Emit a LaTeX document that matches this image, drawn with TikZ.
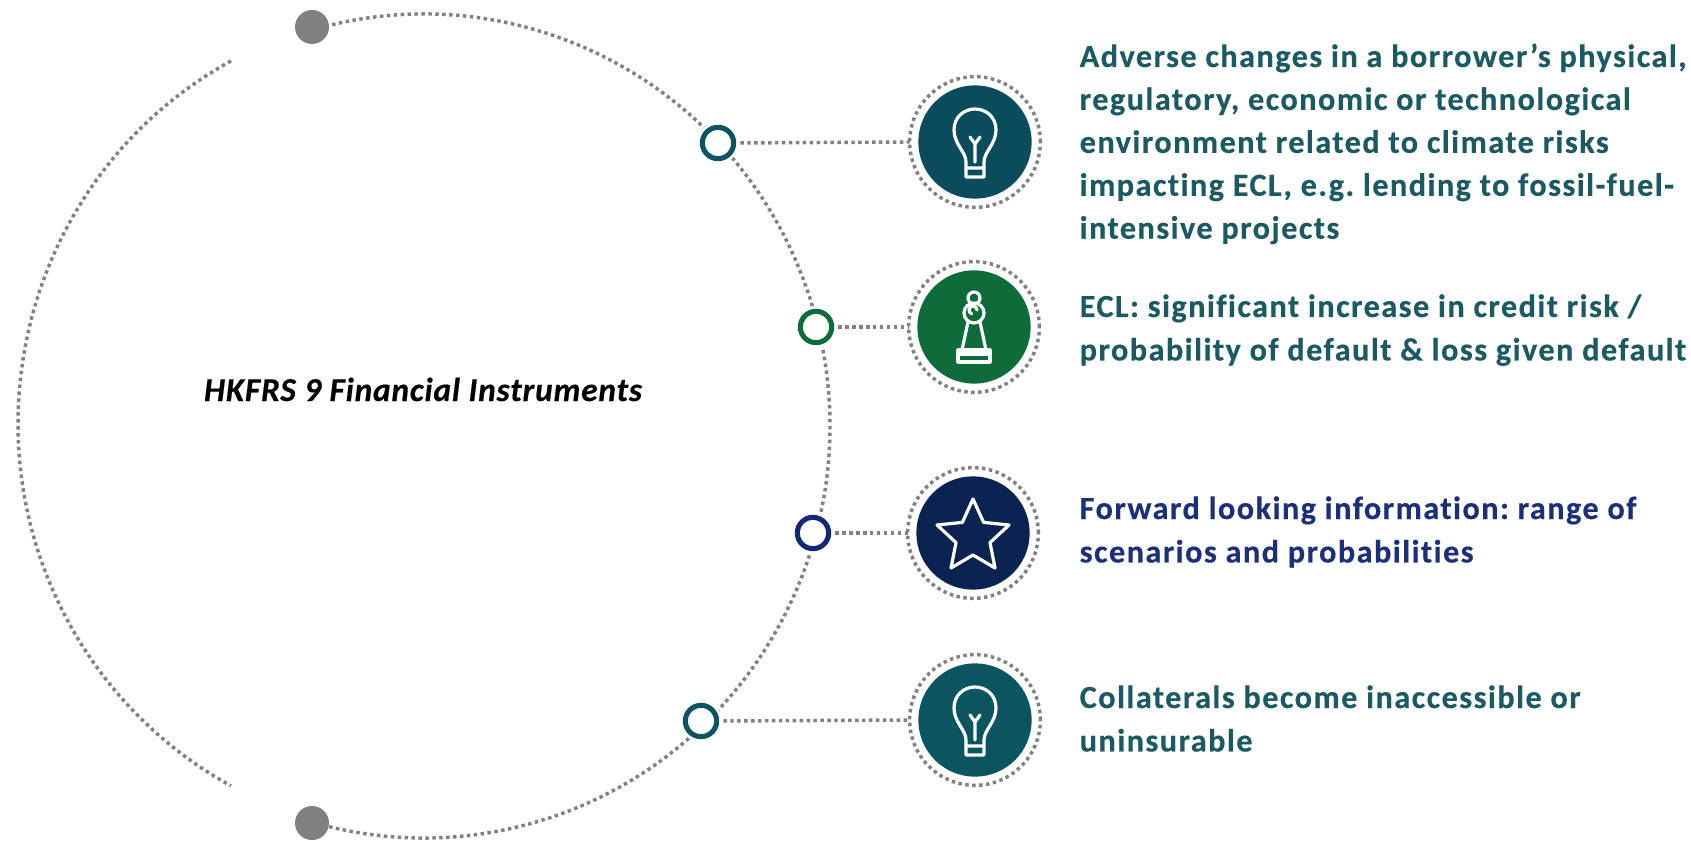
\documentclass[tikz,border=0pt]{standalone}
\usepackage{fontspec}
\setmainfont{Carlito}
\newfontfamily\bodyfont[LetterSpace=4.5,RawFeature={-liga;-clig},BoldFeatures={FakeBold=0.4}]{Carlito}
\newfontfamily\titlefont[LetterSpace=2.5,RawFeature={-liga;-clig},BoldItalicFeatures={FakeBold=0.4}]{Carlito}
\definecolor{dotgray}{HTML}{858080}
\definecolor{ballgray}{HTML}{808080}
\definecolor{tealA}{HTML}{0A4C5C}
\definecolor{tealB}{HTML}{0B5560}
\definecolor{greenA}{HTML}{0E6B3A}
\definecolor{navyA}{HTML}{0B2350}
\definecolor{blueA}{HTML}{14287A}
\definecolor{txtteal}{HTML}{1B5A63}
\definecolor{txtblue}{HTML}{1C2F7A}
\tikzset{
  dotline/.style={draw=dotgray,line width=2.6pt,dash pattern=on 2.6pt off 2.6pt},
  ball/.style={circle,fill=ballgray,inner sep=0pt,outer sep=0pt,minimum size=25.5pt},
  hollow/.style={circle,draw=#1,fill=white,line width=3.8pt,inner sep=0pt,outer sep=0pt,minimum size=23.5pt,
     preaction={draw=white,line width=8pt}},
  disc/.style={circle,fill=#1,inner sep=0pt,outer sep=0pt,minimum size=85pt},
  halo/.style={circle,dotline,inner sep=0pt,outer sep=0pt,minimum size=98pt},
  icon/.style={draw=white,line width=2.4pt,line join=round,line cap=round},
  body/.style={anchor=base west,text=#1},
  bulb/.pic={
    \draw[icon] (-9,20) -- (-9,35) -- (9,35) -- (9,20)
       .. controls (9,10) and (21,2) .. (21,-12)
       .. controls (21,-25) and (11,-33) .. (0,-33)
       .. controls (-11,-33) and (-21,-25) .. (-21,-12)
       .. controls (-21,2) and (-9,10) .. (-9,20) -- cycle;
    \draw[icon] (0,20) -- (0,2) (-5,-5) -- (0,2) -- (5,-5) (-9,26) -- (9,26);
  },
}
\begin{document}
\frenchspacing
\begin{tikzpicture}[x=0.75pt,y=-0.75pt]
\useasboundingbox (0,0) rectangle (1691,841);
\fill[white] (0,0) rectangle (1691,841);
% big circle
\coordinate (lefttop) at (231,61);
\coordinate (righttop) at (312,30);
\draw[dotline] (righttop) arc[x radius=406,y radius=412,start angle=-106,end angle=106];
\draw[dotline] (lefttop) arc[x radius=406,y radius=412,start angle=241.6,end angle=118.4];
% end balls
\node[ball] (topball) at (312,27) {};
\node[ball] (botball) at (312,823) {};
% hollow markers
\node[hollow=tealB] (m1) at (718,143) {};
\node[hollow=greenA] (m2) at (816,327) {};
\node[hollow=blueA] (m3) at (813,533) {};
\node[hollow=tealB] (m4) at (701,721) {};
% halos and discs
\node[halo] (h1) at (975,142) {};
\node[halo] (h2) at (974,327) {};
\node[halo] (h3) at (973,533) {};
\node[halo] (h4) at (975,720) {};
\node[disc=tealA] (d1) at (975,142) {};
\node[disc=greenA] (d2) at (974,327) {};
\node[disc=navyA] (d3) at (973,533) {};
\node[disc=tealB] (d4) at (975,720) {};
% connectors
\foreach \a in {1,2,3,4}
  \draw[dotline,shorten <=5pt] (m\a.east) -- (h\a.west);
% icons
\pic at (d1) {bulb};
\pic at (d4) {bulb};
\begin{scope}[shift={(d2)}]
  \draw[icon] (0,-29) circle (6);
  \draw[icon] (0,-14) circle (10);
  \draw[icon] (3,-17) arc[radius=4,start angle=0,end angle=-250];
  \draw[icon] (-6,-5) -- (-12,23) (6,-5) -- (12,23);
  \draw[icon] (-16,23) rectangle (16,35);
  \draw[icon] (-16,27) -- (16,27);
\end{scope}
\draw[icon] (973,499) -- (983.6,522.4) -- (1009,525) -- (990,542.6) -- (995,568) -- (973,555)
   -- (951,568) -- (956,542.6) -- (937,525) -- (962.4,522.4) -- cycle;
% texts
\node[text=black,anchor=base] (title) at (423,401)
  {\fontsize{25pt}{26pt}\titlefont\bfseries\itshape HKFRS 9 Financial Instruments};
\node[body=txtteal] (t1) at (1075,67) {\fontsize{24.2pt}{32.2pt}\bodyfont\bfseries
  \begin{tabular}[t]{@{}l@{}}Adverse changes in a borrower’s physical,\\ regulatory, economic or technological\\ environment related to climate risks\\ impacting ECL, e.g. lending to fossil-fuel-\\ intensive projects\end{tabular}};
\node[body=txtteal] (t2) at (1075,317) {\fontsize{24.2pt}{32.6pt}\bodyfont\bfseries
  \begin{tabular}[t]{@{}l@{}}ECL: significant increase in credit risk /\\ probability of default \& loss given default\end{tabular}};
\node[body=txtblue] (t3) at (1075,519) {\fontsize{24.2pt}{32.6pt}\bodyfont\bfseries
  \begin{tabular}[t]{@{}l@{}}Forward looking information: range of\\ scenarios and probabilities\end{tabular}};
\node[body=txtteal] (t4) at (1075,708) {\fontsize{24.2pt}{32.6pt}\bodyfont\bfseries
  \begin{tabular}[t]{@{}l@{}}Collaterals become inaccessible or\\ uninsurable\end{tabular}};
\end{tikzpicture}
\end{document}
